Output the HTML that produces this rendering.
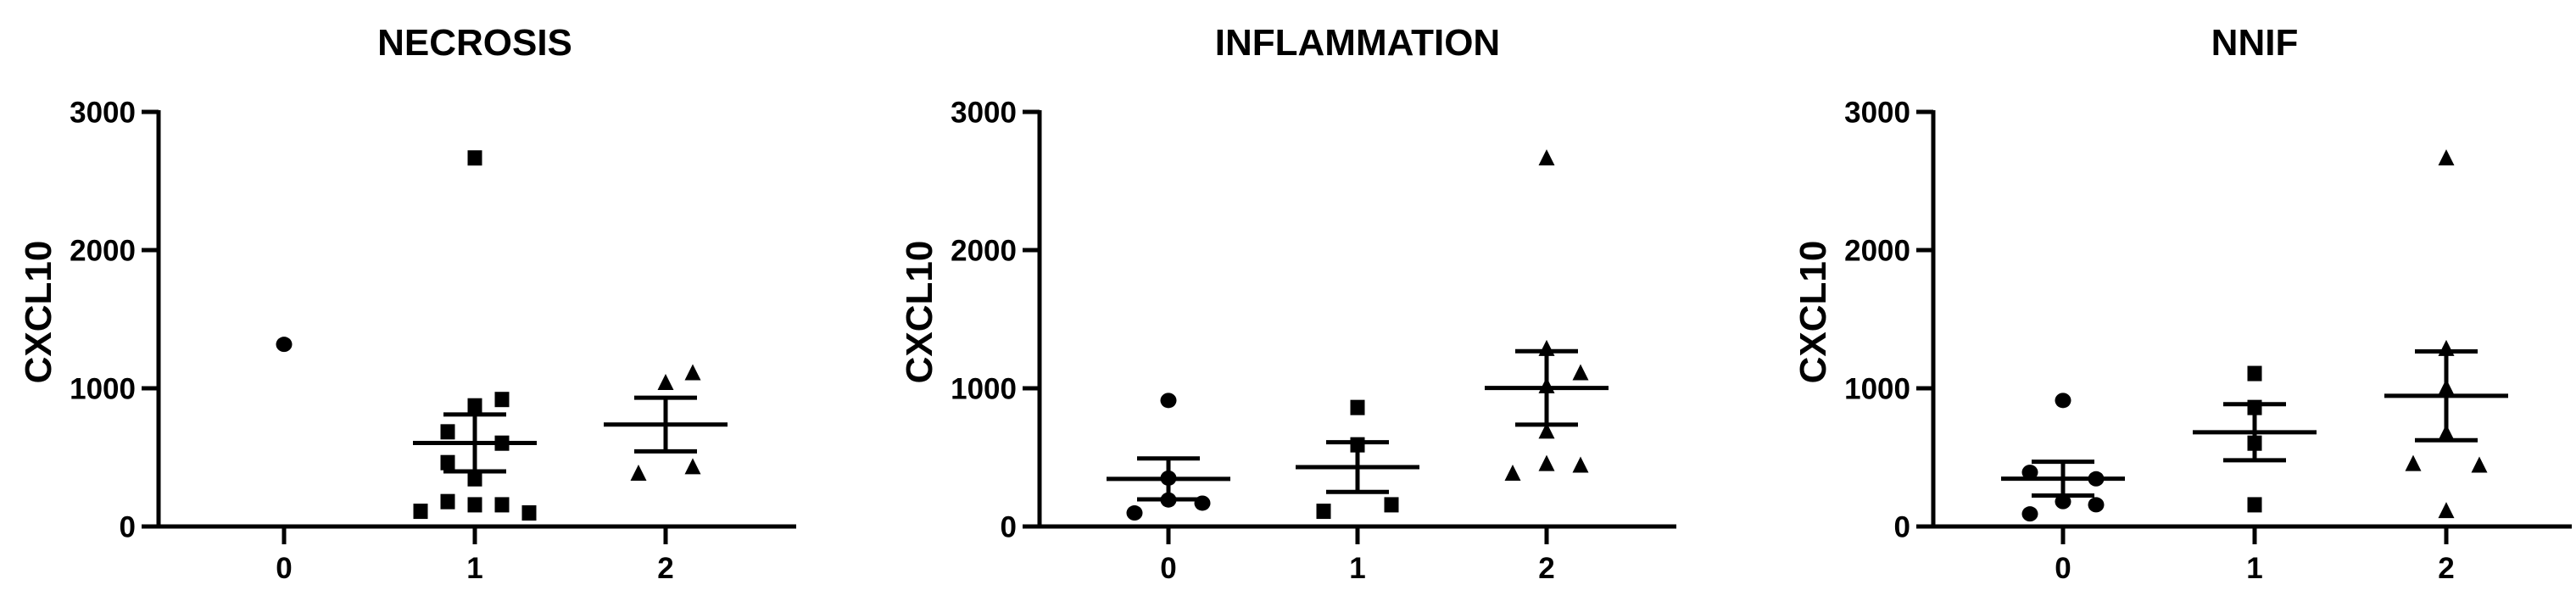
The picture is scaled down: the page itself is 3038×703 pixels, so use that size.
<!DOCTYPE html>
<html><head><meta charset="utf-8">
<style>
html,body{margin:0;padding:0;background:#fff;}
svg{display:block;}
text{font-family:"Liberation Sans",Arial,sans-serif;font-weight:bold;fill:#000;}
</style></head>
<body>
<svg id="chart" width="3038" height="703" viewBox="0 0 3038 703" xmlns="http://www.w3.org/2000/svg"></svg>
<script>
// ---- data ----
const panelTitles = ["NECROSIS", "INFLAMMATION", "NNIF"];
const categories = ["0", "1", "2"];
const yTicks = [0, 1000, 2000, 3000];
const yTickLabels = ["0", "1000", "2000", "3000"];
const yLabel = "CXCL10";
// values per panel per category
const necrosisValues = [
  [1318],
  [2667, 919, 873, 685, 603, 462, 345, 110, 180, 157, 157, 98],
  [1107, 1037, 427, 380]
];
const necrosisSlots = [
  [0],
  [0, 1, 0, -1, 1, -1, 0, -2, -1, 0, 1, 2],
  [1, 0, 1, -1]
];
const inflammationValues = [
  [912, 350, 192, 169, 98],
  [861, 591, 157, 110],
  [2662, 1283, 1107, 1013, 685, 450, 439, 380]
];
const inflammationSlots = [
  [0, 0, 0, 1, -1],
  [0, 0, 1, -1],
  [0, 0, 1, 0, 0, 0, 1, -1]
];
const nnifValues = [
  [912, 392, 345, 180, 157, 91],
  [1107, 861, 603, 157],
  [2662, 1283, 1001, 673, 450, 439, 110]
];
const nnifSlots = [
  [0, -1, 1, 0, 1, -1],
  [0, 0, 0, 0],
  [0, 0, 0, 0, -1, 1, 0]
];

// ---- layout (not data) ----
const layouts = [
  {axisX:187, catX0:335, catStep:225, axisEnd:939, slotW:32},
  {axisX:1226, catX0:1378, catStep:223, axisEnd:1977, slotW:40},
  {axisX:2280, catX0:2433, catStep:226, axisEnd:3033, slotW:39}
];
const Y0 = 621, YTOP = 132, YMAX = 3000;
const allValues = [necrosisValues, inflammationValues, nnifValues];
const allSlots = [necrosisSlots, inflammationSlots, nnifSlots];
const shapes = ["circle", "square", "triangle"];

const svg = document.getElementById('chart');
const NS = "http://www.w3.org/2000/svg";
function mk(tag, attrs, parent){
  const e = document.createElementNS(NS, tag);
  for (const k in attrs) e.setAttribute(k, attrs[k]);
  (parent||svg).appendChild(e);
  return e;
}
function yScale(v){ return Y0 - (v / YMAX) * (Y0 - YTOP); }

layouts.forEach((L, p) => {
  const xScale = i => L.catX0 + i * L.catStep;
  const g = mk('g', {});
  
  

  const title = mk('text', {x: xScale(1), y: 65, 'font-size': 44, 'text-anchor': 'middle'}, g);
  title.textContent = panelTitles[p];
  
  

  const yl = mk('text', {x: 0, y: 0, 'font-size': 44, 'text-anchor': 'middle',
    transform: 'translate(' + (L.axisX - 127) + ',368) rotate(-90)'}, g);
  yl.textContent = yLabel;
  
  

  // axes
  const ya = mk('line', {x1: L.axisX, y1: YTOP - 2, x2: L.axisX, y2: Y0 + 2, stroke: '#000', 'stroke-width': 5}, g);
  
  
  const xa = mk('line', {x1: L.axisX - 20, y1: Y0, x2: L.axisEnd, y2: Y0, stroke: '#000', 'stroke-width': 5}, g);
  
  

  yTicks.forEach((t, i) => {
    const y = yScale(t);
    const tk = mk('line', {x1: L.axisX - 20, y1: y, x2: L.axisX, y2: y, stroke: '#000', 'stroke-width': 5}, g);
    
    
    const lb = mk('text', {x: L.axisX - 27, y: y + 12.5, 'font-size': 35, 'text-anchor': 'end'}, g);
    lb.textContent = yTickLabels[i];
    
    
  });
  categories.forEach((c, i) => {
    const x = xScale(i);
    const tk = mk('line', {x1: x, y1: Y0, x2: x, y2: Y0 + 21, stroke: '#000', 'stroke-width': 5}, g);
    
    
    const lb = mk('text', {x: x, y: 682, 'font-size': 35, 'text-anchor': 'middle'}, g);
    lb.textContent = c;
    
    
  });

  // points and mean ± SEM
  allValues[p].forEach((vals, ci) => {
    const cx = xScale(ci);
    vals.forEach((v, k) => {
      const x = cx + allSlots[p][ci][k] * L.slotW;
      const y = yScale(v);
      let m;
      if (shapes[ci] === 'circle') m = mk('ellipse', {cx: x, cy: y, rx: 9.5, ry: 9, fill: '#000'}, g);
      else if (shapes[ci] === 'square') m = mk('rect', {x: x - 8.5, y: y - 9, width: 17, height: 18, fill: '#000'}, g);
      else m = mk('polygon', {points: (x) + ',' + (y - 11) + ' ' + (x + 9.5) + ',' + (y + 8) + ' ' + (x - 9.5) + ',' + (y + 8), fill: '#000'}, g);
      
      
    });
    if (vals.length > 1) {
      const n = vals.length;
      const mean = vals.reduce((a, b) => a + b, 0) / n;
      const sd = Math.sqrt(vals.reduce((a, b) => a + (b - mean) * (b - mean), 0) / (n - 1));
      const sem = sd / Math.sqrt(n);
      const ml = mk('line', {x1: cx - 73, y1: yScale(mean), x2: cx + 73, y2: yScale(mean), stroke: '#000', 'stroke-width': 5}, g);
      
      
      const eb = mk('line', {x1: cx, y1: yScale(mean + sem), x2: cx, y2: yScale(mean - sem), stroke: '#000', 'stroke-width': 5}, g);
      
      
      [mean + sem, mean - sem].forEach(v => {
        const cap = mk('line', {x1: cx - 37, y1: yScale(v), x2: cx + 37, y2: yScale(v), stroke: '#000', 'stroke-width': 5}, g);
        
        
      });
    }
  });
});
</script>
</body></html>
